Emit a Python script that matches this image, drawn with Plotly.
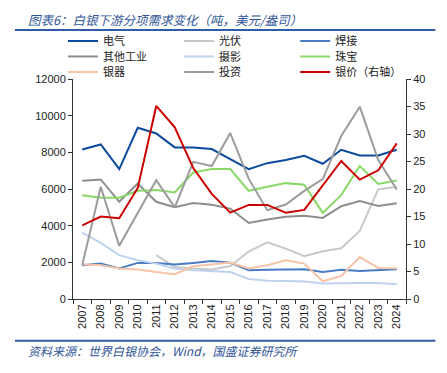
import plotly.graph_objects as go

years = [str(y) for y in range(2007, 2025)]

electrical = [8150, 8430, 7085, 9340, 9030, 8270, 8270, 8180, 7630, 7085, 7410, 7580, 7810, 7375, 8140, 7830, 7830, 8140]
photovoltaic = [None, None, None, None, 2390, 1750, 1660, 1605, 1800, 2590, 3090, 2750, 2330, 2605, 2770, 3715, 5975, 6120]
brazing = [1840, 1930, 1660, 1970, 1970, 1880, 1970, 2075, 1985, 1565, 1590, 1620, 1620, 1475, 1590, 1530, 1590, 1620]
other_industrial = [6450, 6520, 5300, 6300, 5300, 5000, 5240, 5140, 4930, 4150, 4335, 4480, 4535, 4425, 5060, 5350, 5080, 5225]
photography = [3625, 3060, 2390, 2115, 1930, 1660, 1565, 1530, 1475, 1090, 1000, 985, 950, 840, 875, 875, 875, 800]
jewelry = [5665, 5520, 5520, 5900, 5940, 5810, 6900, 7085, 7085, 5900, 6120, 6320, 6230, 4700, 5665, 7250, 6280, 6465]
silverware = [1895, 1840, 1660, 1605, 1475, 1350, 1785, 1895, 1985, 1660, 1840, 2115, 1930, 965, 1260, 2295, 1695, 1675]
investment = [1850, 6120, 2900, 4700, 6480, 5000, 7480, 7250, 9050, 6550, 4845, 5150, 5900, 6540, 8890, 10490, 7580, 5975]
silver_price = [13.4, 15.0, 14.7, 20.2, 35.1, 31.2, 23.8, 19.1, 15.7, 17.1, 17.1, 15.7, 16.2, 20.6, 25.1, 21.7, 23.4, 28.3]

names = ["电气", "光伏", "焊接", "其他工业", "摄影", "珠宝", "银器", "投资", "银价（右轴）"]
series = [electrical, photovoltaic, brazing, other_industrial, photography, jewelry, silverware, investment, silver_price]
colors = ["#0B4A9E", "#C9C9C9", "#4A7CC6", "#8E8E8E", "#BFD2EE", "#8AD868", "#F7C4A8", "#9C9C9C", "#CC0000"]

# the page body has an 8px margin; figure sized to fit the window
OFF = 8
W, H = 447 - OFF, 373 - OFF
ml = 73 - OFF
mt = 79 - OFF
mr = W - (405.7 - OFF)
mb = H - (298.7 - OFF)
plot_w = W - ml - mr
plot_h = H - mt - mb

def px_x(x):  # x in window pixels
    return (x - OFF - ml) / plot_w

def px_y(y):  # y in window pixels
    return (H - mb - (y - OFF)) / plot_h

cjk = "Noto Sans CJK SC"
font_num = dict(family="Liberation Sans, Arial, sans-serif", size=11, color="#222")

fig = go.Figure()
legend_layout = {}
col_x = [63, 179, 295]
row_y = [41, 56.5, 72]
for i, (name, vals, col) in enumerate(zip(names, series, colors)):
    lid = "legend" if i == 0 else f"legend{i + 1}"
    fig.add_trace(go.Scatter(
        x=years, y=vals, name=name, mode="lines",
        line=dict(color=col, width=2),
        yaxis="y2" if name.startswith("银价") else "y",
        legend=lid, connectgaps=False,
    ))
    r, c = divmod(i, 3)
    legend_layout[lid] = dict(
        x=px_x(col_x[c]), xanchor="left",
        y=px_y(row_y[r]), yanchor="middle",
        font=dict(family=cjk, size=11, color="#222"),
        bgcolor="rgba(0,0,0,0)", itemwidth=30, borderwidth=0,
    )

fig.update_layout(
    width=W, height=H,
    margin=dict(l=ml, r=mr, t=mt, b=mb, autoexpand=False),
    paper_bgcolor="white", plot_bgcolor="white",
    showlegend=True,
    xaxis=dict(
        type="category", range=[-0.5, 17.5], tickangle=-90,
        ticks="outside", tickson="boundaries", ticklen=4, tickcolor="#333",
        showline=True, linecolor="#333", linewidth=1, showgrid=False,
        tickfont=font_num,
    ),
    yaxis=dict(
        range=[0, 12000], dtick=2000, ticks="outside", ticklen=4, tickcolor="#333",
        showline=True, linecolor="#333", linewidth=1, showgrid=False, zeroline=False,
        tickfont=font_num, tickformat="d",
    ),
    yaxis2=dict(
        range=[0, 40], dtick=5, overlaying="y", side="right",
        ticks="outside", ticklen=4, tickcolor="#333",
        showline=True, linecolor="#333", linewidth=1, showgrid=False, zeroline=False,
        tickfont=font_num,
    ),
    **legend_layout,
)

blue = "#2E5CA8"
for ypx in (30, 340.5):
    fig.add_shape(type="line", xref="paper", yref="paper",
                  x0=px_x(15), x1=px_x(435), y0=px_y(ypx), y1=px_y(ypx),
                  line=dict(color=blue, width=2))

fig.add_annotation(
    text="<i>图表6：白银下游分项需求变化（吨，美元/盎司）</i>",
    xref="paper", yref="paper", x=px_x(26), y=px_y(8.5),
    xanchor="left", yanchor="top", showarrow=False,
    font=dict(family=cjk, size=12.5, color="#2F5597"),
)
fig.add_annotation(
    text="<i>资料来源：世界白银协会，Wind，国盛证券研究所</i>",
    xref="paper", yref="paper", x=px_x(26), y=px_y(350),
    xanchor="left", yanchor="middle", showarrow=False,
    font=dict(family=cjk, size=12, color="#2F5597"),
)

fig.write_html("out.html")
